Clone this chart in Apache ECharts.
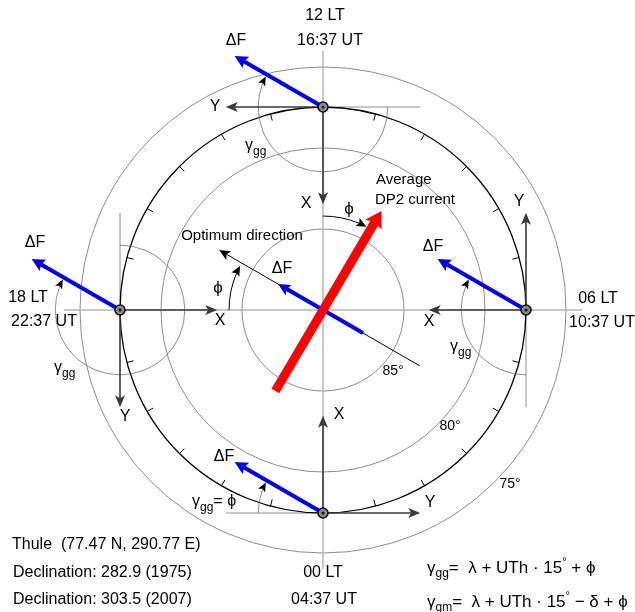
<!DOCTYPE html>
<html>
<head>
<meta charset="utf-8">
<script src="https://cdn.jsdelivr.net/npm/echarts@6/dist/echarts.min.js"></script>
<style>
html, body { margin: 0; background: #fff; }
#main { width: 635px; height: 612px; }
</style>
</head>
<body>
<div id="main"></div>
<script>
// ---- data (degrees of colatitude from the pole, angles in degrees, 0 = right, counter-clockwise) ----
const stationLat = 77.47;
const latCircles = [85, 80, 75];
const latLabels = ['85°', '80°', '75°'];
const ltLabels = ['12 LT', '06 LT', '00 LT', '18 LT'];
const utLabels = ['16:37 UT', '10:37 UT', '04:37 UT', '22:37 UT'];
const stationDir = [90, 0, -90, 180];     // where the station sits round the pole
const refDir = [0, -90, 180, 90];         // local reference line (start of gamma_gg)
const xDir = [-90, 180, 90, 0];           // local X axis
const yDir = [180, 90, 0, -90];           // local Y axis
const hourTicks = [15, 30, 45, 60, 75, 105, 120, 135, 150, 165, 195, 210, 225, 240, 255, 285, 300, 315, 330, 345];
const deltaFDir = 150;
const deltaFLen = 6.3;
const axisLen = 6;
const gammaRadius = 4;
const optimumDir = 150;
const optimumSpan = [-6.9, 7.4];
const centerDeltaF = [-2.85, 3.2];
const dp2Dir = 59.5;
const dp2Span = [-5.8, 7.1];
const phiRadius = 5.8;
const crossLen = 16;

// ---- layout ----
const W = 635, H = 612;
const CX = 323, CY = 310;   // pole in pixels
const S = 16.2;             // pixels per degree of colatitude
const FONT = '"Liberation Sans", Arial, sans-serif';

const stationR = 90 - stationLat;
const rad = Math.PI / 180;
function pol(r, a, c) {
	c = c || [0, 0];
	return [c[0] + r * Math.cos(a * rad), c[1] + r * Math.sin(a * rad)];
}
function seg(p, q) { return [p[0], p[1], q[0], q[1]]; }

const stations = stationDir.map(a => pol(stationR, a));

// arrow head polygon, tip at p, pointing along (ux, uy), head = [len, halfWidth, notch]
function headPts(p, ux, uy, head) {
	const len = head[0], hw = head[1], notch = head[2];
	const bx = p[0] - ux * len, by = p[1] - uy * len;
	return [
		[p[0], p[1]],
		[bx - uy * hw, by + ux * hw],
		[p[0] - ux * (len - notch), p[1] - uy * (len - notch)],
		[bx + uy * hw, by - ux * hw]
	];
}

function segSeries(data, color, width, head, z) {
	return {
		type: 'custom',
		coordinateSystem: 'cartesian2d',
		silent: true,
		z: z,
		encode: { x: [0, 2], y: [1, 3] },
		data: data,
		renderItem: function (params, api) {
			const p0 = api.coord([api.value(0), api.value(1)]);
			const p1 = api.coord([api.value(2), api.value(3)]);
			const children = [];
			let end = p1;
			if (head) {
				const dx = p1[0] - p0[0], dy = p1[1] - p0[1];
				const L = Math.hypot(dx, dy);
				const ux = dx / L, uy = dy / L;
				end = [p1[0] - ux * (head[0] - head[2]), p1[1] - uy * (head[0] - head[2])];
				children.push({ type: 'polygon', shape: { points: headPts(p1, ux, uy, head) }, style: { fill: color } });
			}
			children.unshift({
				type: 'line',
				shape: { x1: p0[0], y1: p0[1], x2: end[0], y2: end[1] },
				style: { stroke: color, lineWidth: width, lineCap: 'butt' }
			});
			return { type: 'group', children: children };
		}
	};
}

// data item: [cx, cy, r, startAngle, endAngle]  (clockwise when end < start)
function arcSeries(data, color, width, head, z, headColor) {
	return {
		type: 'custom',
		coordinateSystem: 'cartesian2d',
		silent: true,
		z: z,
		encode: { x: 0, y: 1 },
		data: data,
		renderItem: function (params, api) {
			const c = api.coord([api.value(0), api.value(1)]);
			const r = api.size([api.value(2), 0])[0];
			const a0 = api.value(3), a1 = api.value(4);
			const children = [];
			if (a0 === a1) {
				children.push({ type: 'circle', shape: { cx: c[0], cy: c[1], r: r }, style: { stroke: color, lineWidth: width, fill: 'none' } });
				return { type: 'group', children: children };
			}
			// canvas angles grow clockwise on screen
			const t0 = -a0 * rad;
			let t1 = -a1 * rad;
			if (head) {
				const tx = -Math.sin(t1), ty = Math.cos(t1);
				const tip = [c[0] + r * Math.cos(t1), c[1] + r * Math.sin(t1)];
				children.push({ type: 'polygon', shape: { points: headPts(tip, tx, ty, head) }, style: { fill: headColor || color } });
				t1 -= (head[0] - head[2]) / r;
			}
			children.unshift({
				type: 'arc',
				shape: { cx: c[0], cy: c[1], r: r, startAngle: t0, endAngle: t1, clockwise: true },
				style: { stroke: color, lineWidth: width, fill: 'none' }
			});
			return { type: 'group', children: children };
		}
	};
}

// ---- build the marks from the data ----
const latCircleData = latCircles.map(l => [0, 0, 90 - l, 0, 0]);
const stationCircleData = [[0, 0, stationR, 0, 0]];

const crossData = [
	seg([-crossLen, 0], [crossLen, 0]),
	seg([0, -crossLen], [0, crossLen])
].concat(stations.map((s, i) => seg(s, pol(axisLen, refDir[i], s))));

const tickData = hourTicks.map(a => seg(pol(stationR, a), pol(stationR - 0.42, a)));

const gammaData = stations.map((s, i) => {
	let end = deltaFDir + 2;
	while (end >= refDir[i]) end -= 360;
	return [s[0], s[1], gammaRadius, refDir[i], end];
});
const phiData = [
	[0, 0, phiRadius, 90, dp2Dir + 3],
	[0, 0, phiRadius, 180, optimumDir + 2]
];

const xAxisData = stations.map((s, i) => seg(s, pol(axisLen, xDir[i], s)));
const yAxisData = stations.map((s, i) => seg(s, pol(axisLen, yDir[i], s)));
const deltaFData = stations.map(s => seg(s, pol(deltaFLen, deltaFDir, s)));
const centerDFData = [seg(pol(centerDeltaF[0], deltaFDir), pol(centerDeltaF[1], deltaFDir))];
const optimumData = [seg(pol(optimumSpan[0], optimumDir), pol(optimumSpan[1], optimumDir))];
const dp2Data = [seg(pol(dp2Span[0], dp2Dir), pol(dp2Span[1], dp2Dir))];

// ---- texts ----
function txt(text, x, y, size, align) {
	return {
		type: 'text', x: x, y: y, silent: true, z: 100,
		style: { text: text, fill: '#000', font: size + 'px ' + FONT, align: align || 'center', verticalAlign: 'middle' }
	};
}
function gammaTxt(sub, tail, x, y, size) {
	size = size || 16;
	return {
		type: 'text', x: x, y: y, silent: true, z: 100,
		style: {
			text: '{g|γ}{s|' + sub + '}' + tail,
			align: 'left', verticalAlign: 'middle', fill: '#000',
			rich: {
				g: { fontSize: size, fontFamily: FONT, lineHeight: 24, verticalAlign: 'middle' },
				s: { fontSize: 12, fontFamily: FONT, lineHeight: 12, verticalAlign: 'bottom' },
				t: { fontSize: size, fontFamily: FONT, lineHeight: 24, verticalAlign: 'middle' },
				o: { fontSize: 11, fontFamily: FONT, lineHeight: 10, verticalAlign: 'top' }
			}
		}
	};
}

const ltPos = [[325, 16], [598, 299], [323, 573], [28, 298]];
const utPos = [[330, 41], [602, 323], [324, 600], [44, 322]];
const xLabelPos = [[306, 204], [429, 322], [339, 415], [220, 321]];
const yLabelPos = [[215, 107], [519, 202], [430, 503], [125, 417]];
const dfLabelPos = [[236, 41], [35, 243], [433, 247], [224, 457]];
const latLabelPos = [[393, 371], [450, 426], [510, 484]];

const texts = [];
ltLabels.forEach((t, i) => texts.push(txt(t, ltPos[i][0], ltPos[i][1], 16)));
utLabels.forEach((t, i) => texts.push(txt(t, utPos[i][0], utPos[i][1], 16)));
xLabelPos.forEach(p => texts.push(txt('X', p[0], p[1], 16)));
yLabelPos.forEach(p => texts.push(txt('Y', p[0], p[1], 16)));
dfLabelPos.forEach(p => texts.push(txt('ΔF', p[0], p[1], 16)));
texts.push(txt('ΔF', 282, 269, 16));
latLabels.forEach((t, i) => texts.push(txt(t, latLabelPos[i][0], latLabelPos[i][1], 14)));
texts.push(txt('Optimum direction', 242, 236, 15));
texts.push(txt('Average', 376, 180, 15, 'left'));
texts.push(txt('DP2 current', 375, 200, 15, 'left'));
texts.push(txt('ϕ', 349, 209, 17));
texts.push(txt('ϕ', 218, 288, 17));
texts.push(txt('Thule  (77.47 N, 290.77 E)', 12, 545, 16, 'left'));
texts.push(txt('Declination: 282.9 (1975)', 13, 573, 16, 'left'));
texts.push(txt('Declination: 303.5 (2007)', 13, 600, 16, 'left'));
texts.push(gammaTxt('gg', '', 245, 146));
texts.push(gammaTxt('gg', '', 54, 368));
texts.push(gammaTxt('gg', '', 450, 347));
texts.push(gammaTxt('gg', '{t|= ϕ}', 192, 502));
texts.push(gammaTxt('gg', '{t|=  λ + UTh · 15}{o|°}{t| + ϕ}', 427, 568, 17));
texts.push(gammaTxt('gm', '{t|=  λ + UTh · 15}{o|°}{t| − δ + ϕ}', 427, 602, 17));

// ---- chart ----
const chart = echarts.init(document.getElementById('main'));
const option = {
	animation: false,
	backgroundColor: '#fff',
	grid: { left: 0, right: 0, top: 0, bottom: 0 },
	xAxis: { type: 'value', min: -CX / S, max: (W - CX) / S, show: false },
	yAxis: { type: 'value', min: -(H - CY) / S, max: CY / S, show: false },
	graphic: texts,
	series: [
		arcSeries(latCircleData, '#6e6e6e', 0.8, null, 1),
		segSeries(crossData, '#b4b4b4', 1.5, null, 2),
		arcSeries(stationCircleData, '#000', 1.3, null, 3),
		segSeries(tickData, '#000', 1, null, 3),
		arcSeries(gammaData, '#6e6e6e', 0.8, [9, 4, 2], 4, '#000'),
		arcSeries(phiData, '#000', 1, [10, 4.5, 2], 4),
		segSeries(optimumData, '#000', 1, [11, 5, 2.5], 5),
		segSeries(xAxisData, '#3a3a3a', 1.6, [12, 5, 3], 6),
		segSeries(yAxisData, '#3a3a3a', 1.6, [12, 5, 3], 6),
		segSeries(deltaFData, '#0000e6', 4, [13, 6.5, 2], 7),
		segSeries(centerDFData, '#0000e6', 4, [12, 6, 2], 7),
		segSeries(dp2Data, '#ff0000', 9, [16, 9.5, 3], 8),
		{
			type: 'scatter',
			silent: true,
			z: 9,
			symbol: 'circle',
			symbolSize: 10,
			itemStyle: { color: '#8a8a8a', borderColor: '#111', borderWidth: 1.6, opacity: 1 },
			data: stations
		},
		{
			type: 'scatter',
			silent: true,
			z: 10,
			symbol: 'circle',
			symbolSize: 3,
			itemStyle: { color: '#111', opacity: 1 },
			data: stations
		}
	]
};
chart.setOption(option);
</script>
</body>
</html>
